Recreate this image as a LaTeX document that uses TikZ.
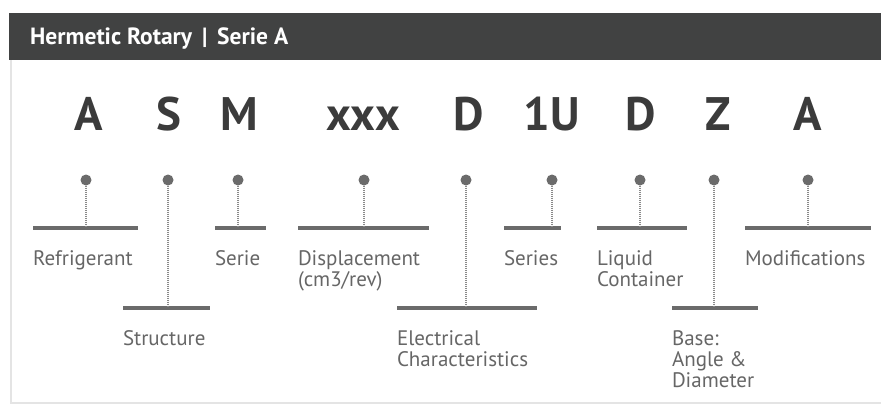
\documentclass[tikz,border=0pt]{standalone}
\usepackage{fontspec}
\setmainfont{PT Sans}
\usetikzlibrary{positioning}
\definecolor{headgray}{HTML}{414242}
\definecolor{codegray}{HTML}{3B3B3B}
\definecolor{markgray}{HTML}{6B6B6B}
\definecolor{labelgray}{HTML}{666666}
\definecolor{framegray}{HTML}{E4E4E4}

\begin{document}
\begin{tikzpicture}[
        x=1pt,y=-1pt,node distance=20pt,
        code/.style={anchor=base,inner sep=0pt,text=codegray,font=\fontsize{47}{47}\selectfont\bfseries},
        pin/.style={circle,fill=markgray,minimum size=11pt,inner sep=0pt},
        bar/.style={fill=markgray,minimum height=3.5pt,inner sep=0pt,minimum width=#1},
        stem/.style={draw=markgray!80,line width=1.1pt,dash pattern=on 1pt off 1pt},
        lbl/.style={inner sep=0pt,align=left,text=labelgray,font=\fontsize{21}{21}\selectfont},
        ]
        \fill[white] (0,0) rectangle (881,407);
        \useasboundingbox (0,0) rectangle (881,407);
        \fill[headgray] (9,13) rectangle (881,60);
        \draw[framegray,line width=2pt] (11,60) -- (11,403) -- (881,403);
        \node[anchor=base west,inner sep=0pt,text=white,font=\fontsize{23.5}{23.5}\selectfont\bfseries] (head) at (30,44) {Hermetic Rotary \,|\, Serie A};

        \node[code] (c_ref) at (89,130) {A};
        \node[code] (c_str) at (169,130) {S};
        \node[code] (c_ser) at (239,130) {M};
        \node[code] (c_dis) at (363,130) {xxx};
        \node[code] (c_ele) at (469,130) {D};
        \node[code] (c_sers) at (552,130) {1U};
        \node[code] (c_liq) at (641,130) {D};
        \node[code] (c_bas) at (718,130) {Z};
        \node[code] (c_mod) at (808,130) {A};

        \node[pin] (p_ref) at (86,180) {};
        \node[pin] (p_str) at (168,180) {};
        \node[pin] (p_ser) at (238,180) {};
        \node[pin] (p_dis) at (364,180) {};
        \node[pin] (p_ele) at (466,180) {};
        \node[pin] (p_sers) at (552,180) {};
        \node[pin] (p_liq) at (640,180) {};
        \node[pin] (p_bas) at (714,180) {};
        \node[pin] (p_mod) at (808,180) {};

        \node[bar=105pt] (b_ref) at (85.5,228) {};
        \node[bar=87pt] (b_str) at (166.5,308) {};
        \node[bar=51pt] (b_ser) at (240.5,228) {};
        \node[bar=131pt] (b_dis) at (363.5,228) {};
        \node[bar=140pt] (b_ele) at (467,308) {};
        \node[bar=57pt] (b_sers) at (532.5,228) {};
        \node[bar=90pt] (b_liq) at (642,228) {};
        \node[bar=86pt] (b_bas) at (715,308) {};
        \node[bar=126pt] (b_mod) at (808,228) {};

        \foreach \k in {ref,str,ser,dis,ele,sers,liq,bas,mod}
          \draw[stem] (p_\k) -- (p_\k |- b_\k.north);

        \node[lbl,below right=20pt and 0pt of b_ref.south west] (t_ref) {Refrigerant};
        \node[lbl,below right=20pt and 0pt of b_str.south west] (t_str) {Structure};
        \node[lbl,below right=20pt and 0pt of b_ser.south west] (t_ser) {Serie};
        \node[lbl,below right=20pt and 0pt of b_dis.south west] (t_dis) {Displacement\\(cm3/rev)};
        \node[lbl,below right=20pt and 0pt of b_ele.south west] (t_ele) {Electrical\\Characteristics};
        \node[lbl,below right=20pt and 0pt of b_sers.south west] (t_sers) {Series};
        \node[lbl,below right=20pt and 0pt of b_liq.south west] (t_liq) {Liquid\\Container};
        \node[lbl,below right=20pt and 0pt of b_bas.south west] (t_bas) {Base:\\Angle \&\\Diameter};
        \node[lbl,below right=20pt and 0pt of b_mod.south west] (t_mod) {Modifications};
      \end{tikzpicture}
\end{document}
